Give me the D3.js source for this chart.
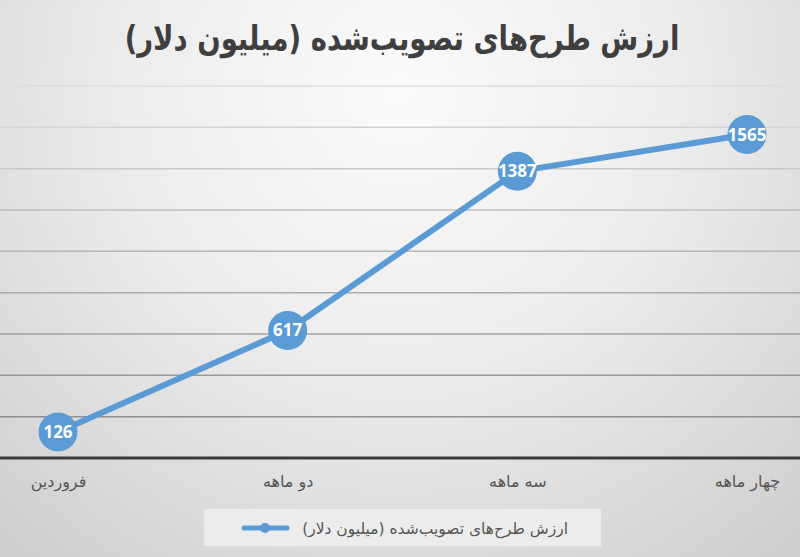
<!DOCTYPE html>
<html>
<head>
<meta charset="utf-8">
<script src="https://cdn.jsdelivr.net/npm/d3@7"></script>
<style>
  body { margin: 0; padding: 0; overflow: hidden; }
</style>
</head>
<body>
<div id="chart"></div>
<script>
// Chart data
const months = ["فروردین", "دو ماهه", "سه ماهه", "چهار ماهه"];
const values = [126, 617, 1387, 1565];
const gridTicks = [0, 200, 400, 600, 800, 1000, 1200, 1400, 1600, 1800];
const titleText = "ارزش طرح‌های تصویب‌شده (میلیون دلار)";
const seriesName = "ارزش طرح‌های تصویب‌شده (میلیون دلار)";

const width = 800;
const height = 557;
const blue = "#5b9bd5";

const svg = d3.select("#chart").append("svg")
    .attr("width", width)
    .attr("height", height);

// background gradient
const defs = svg.append("defs");
const grad = defs.append("radialGradient")
    .attr("id", "bg")
    .attr("gradientUnits", "userSpaceOnUse")
    .attr("cx", 400).attr("cy", 90).attr("r", 620);
grad.append("stop").attr("offset", "0%").attr("stop-color", "#fbfbfb");
grad.append("stop").attr("offset", "45%").attr("stop-color", "#ececec");
grad.append("stop").attr("offset", "100%").attr("stop-color", "#cdcdcd");

svg.append("rect")
    .attr("width", width)
    .attr("height", height)
    .attr("fill", "url(#bg)");

// scales
const x = d3.scalePoint()
    .domain(months)
    .range([58, 747]);
const y = d3.scaleLinear()
    .domain([0, 1800])
    .range([458, 86]);

// gridlines, lighter toward the top
const gridColor = d3.scaleLinear()
    .domain([1800, 200])
    .range(["#dedede", "#8e8e8e"]);

svg.append("g")
    .selectAll("line")
    .data(gridTicks.filter(d => d > 0))
    .enter().append("line")
    .attr("x1", 0)
    .attr("x2", width)
    .attr("y1", d => y(d))
    .attr("y2", d => y(d))
    .attr("stroke", d => gridColor(d))
    .attr("stroke-width", 1.5);

// x axis
const xAxis = d3.axisBottom(x).tickSize(0).tickPadding(18);
svg.append("g")
    .attr("transform", "translate(0," + y(0) + ")")
    .call(xAxis)
    .call(g => g.select(".domain").remove())
    .call(g => g.append("line")
        .attr("x1", 0)
        .attr("x2", width)
        .attr("stroke", "#3a3a3a")
        .attr("stroke-width", 3))
    .selectAll(".tick text")
    .attr("font-family", "DejaVu Sans")
    .attr("font-size", 16)
    .attr("fill", "#555")
    .attr("direction", "rtl");

// title (slightly stretched vertically to mimic the heavy Persian face)
svg.append("text")
    .attr("transform", "translate(402,50) scale(1,1.25)")
    .attr("text-anchor", "middle")
    .attr("direction", "rtl")
    .attr("font-family", "DejaVu Sans")
    .attr("font-weight", "bold")
    .attr("font-size", 27.5)
    .attr("fill", "#3f3f3f")
    .text(titleText);

// line
const line = d3.line()
    .x((d, i) => x(months[i]))
    .y(d => y(d));

svg.append("path")
    .datum(values)
    .attr("fill", "none")
    .attr("stroke", blue)
    .attr("stroke-width", 6)
    .attr("stroke-linejoin", "round")
    .attr("d", line);

svg.selectAll(".dot")
    .data(values)
    .enter().append("circle")
    .attr("class", "dot")
    .attr("cx", (d, i) => x(months[i]))
    .attr("cy", d => y(d))
    .attr("r", 19.5)
    .attr("fill", blue);

svg.selectAll(".val")
    .data(values)
    .enter().append("text")
    .attr("class", "val")
    .attr("x", (d, i) => x(months[i]))
    .attr("y", d => y(d) + 6)
    .attr("text-anchor", "middle")
    .attr("font-family", "Open Sans")
    .attr("font-weight", "bold")
    .attr("font-size", 17)
    .attr("fill", "#fff")
    .text(d => d);

// legend
const legend = svg.append("g");
legend.append("rect")
    .attr("x", 204)
    .attr("y", 509)
    .attr("width", 397)
    .attr("height", 37)
    .attr("fill", "#ececec");
legend.append("line")
    .attr("x1", 244)
    .attr("x2", 287)
    .attr("y1", 528)
    .attr("y2", 528)
    .attr("stroke", blue)
    .attr("stroke-width", 5)
    .attr("stroke-linecap", "round");
legend.append("circle")
    .attr("cx", 265)
    .attr("cy", 528)
    .attr("r", 5)
    .attr("fill", blue);
legend.append("text")
    .attr("x", 568)
    .attr("y", 534)
    .attr("text-anchor", "start")
    .attr("direction", "rtl")
    .attr("font-family", "DejaVu Sans")
    .attr("font-size", 15.5)
    .attr("fill", "#555")
    .text(seriesName);
</script>
</body>
</html>
